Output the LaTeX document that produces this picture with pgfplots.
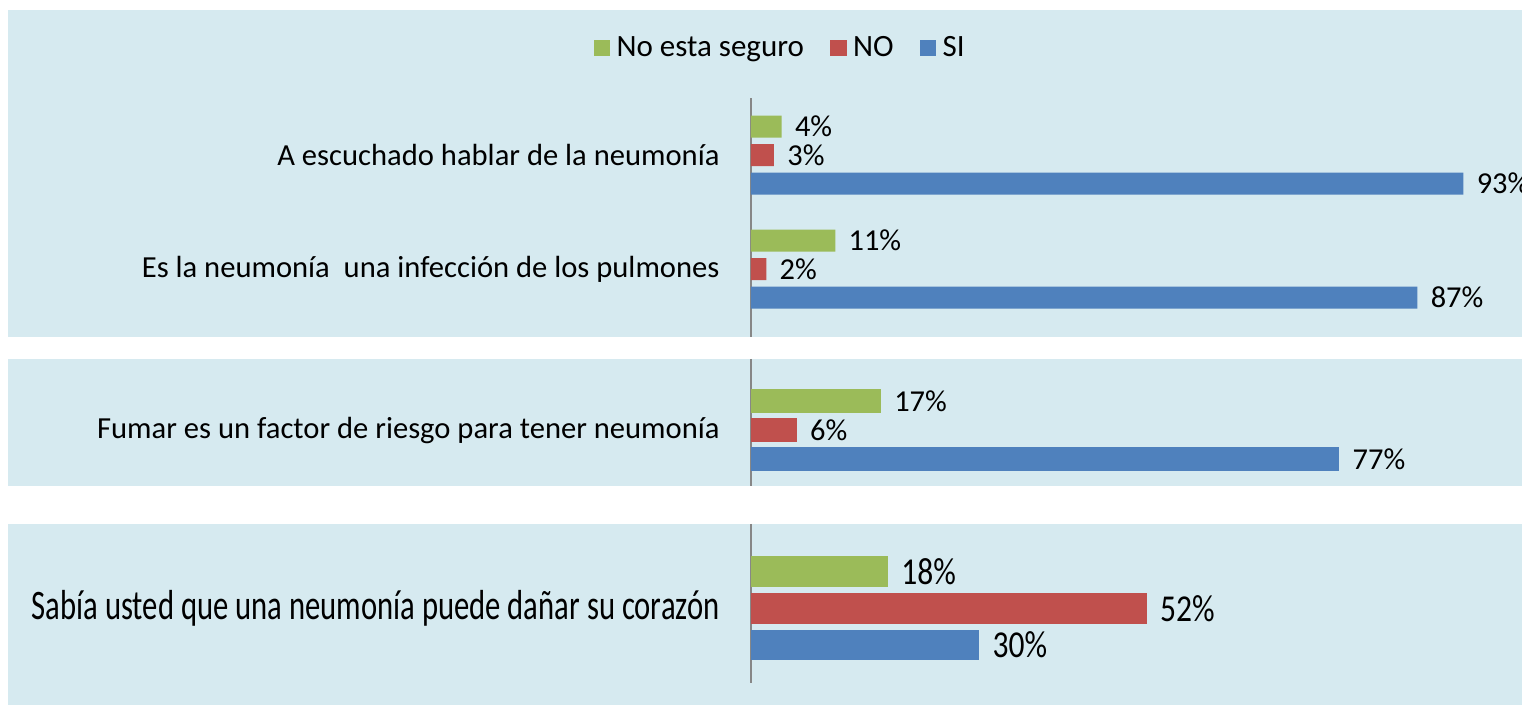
\documentclass[border=0pt]{standalone}
\usepackage{pgfplots}
\pgfplotsset{compat=1.18}
\usepackage{fontspec}
\setmainfont{Carlito}
\newfontfamily\condfont[FakeStretch=0.73]{Carlito}
\newfontfamily\condfontb[FakeStretch=0.83]{Carlito}
\definecolor{cgreen}{RGB}{155,187,89}
\definecolor{cred}{RGB}{192,80,77}
\definecolor{cblue}{RGB}{79,129,189}
\definecolor{panelbg}{RGB}{214,234,240}
\definecolor{axgray}{RGB}{135,135,135}

\pgfplotsset{
  panel/.style={
    anchor=south west,
    y dir=reverse,
    xmin=0,
    axis x line=none,
    axis y line=left,
    y axis line style={axgray, line width=0.6pt, -},
    major tick length=0pt,
    ytick style={draw=none},
    yticklabel style={anchor=east, inner sep=0pt, xshift=-15.5pt, align=right},
    point meta=x,
    nodes near coords={\pgfmathprintnumber[assume math mode=true]{\pgfplotspointmeta}\%},
    every node near coord/.append style={anchor=west, inner sep=0pt, xshift=6.5pt, text=black},
    clip=false,
  }
}

\begin{document}
\begin{tikzpicture}
\useasboundingbox (0pt,0pt) rectangle (761pt,352.5pt);
\fill[white] (0pt,0pt) rectangle (761pt,352.5pt);
\fill[panelbg] (4pt,184pt) rectangle (761pt,347.5pt);
\fill[panelbg] (4pt,109.5pt) rectangle (761pt,173pt);
\fill[panelbg] (4pt,0pt) rectangle (761pt,90.5pt);

% Panel 1
\begin{axis}[panel,
  at={(375.5pt,184pt)},
  x=3.83pt, y=57pt,
  xmax=100.65,
  ymin=-0.5, ymax=1.596,
  xbar=3.25pt, bar width=11pt,
  ytick={0,1},
  yticklabels={A escuchado hablar de la neumonía, Es la neumonía\ \ una infección de los pulmones},
  yticklabel style={font={\fontsize{15.3}{18}\selectfont}},
  every node near coord/.append style={font={\fontsize{15.2}{18}\selectfont}},
  legend columns=3,
  reverse legend,
  legend style={at={(0.039,1.209)}, anchor=center, draw=none, fill=none,
    font={\fontsize{15.5}{18}\selectfont},
    /tikz/every odd column/.append style={column sep=1.2pt},
    /tikz/every even column/.append style={column sep=11pt}},
  legend image code/.code={\fill[#1,draw=none] (0pt,-4pt) rectangle (8.3pt,4.3pt);},
]
\addplot[fill=cblue, draw=none] coordinates {(93,0) (87,1)};
\addplot[fill=cred, draw=none] coordinates {(3,0) (2,1)};
\addplot[fill=cgreen, draw=none] coordinates {(4,0) (11,1)};
\legend{SI, NO, No esta seguro}
\end{axis}

% Panel 2
\begin{axis}[panel,
  at={(375.5pt,109.5pt)},
  x=3.82pt, y=57pt,
  xmax=100.9,
  ymin=-0.623, ymax=0.491,
  xbar=2.5pt, bar width=12pt,
  ytick={0},
  yticklabels={Fumar es un factor de riesgo para tener neumonía},
  yticklabel style={font={\fontsize{15.3}{18}\selectfont}},
  every node near coord/.append style={font={\fontsize{15.2}{18}\selectfont}},
]
\addplot[fill=cblue, draw=none] coordinates {(77,0)};
\addplot[fill=cred, draw=none] coordinates {(6,0)};
\addplot[fill=cgreen, draw=none] coordinates {(17,0)};
\end{axis}

% Panel 3
\begin{axis}[panel,
  at={(375.5pt,11pt)},
  x=3.805pt, y=57pt,
  xmax=101.3,
  ymin=-0.741, ymax=0.654,
  xbar=3.1pt, bar width=15.25pt,
  ytick={0},
  yticklabels={Sabía usted que una neumonía puede dañar su corazón},
  yticklabel style={font={\condfont\fontsize{21}{24}\selectfont}},
  every node near coord/.append style={font={\condfontb\fontsize{19}{22}\selectfont}},
]
\addplot[fill=cblue, draw=none] coordinates {(30,0)};
\addplot[fill=cred, draw=none] coordinates {(52,0)};
\addplot[fill=cgreen, draw=none] coordinates {(18,0)};
\end{axis}
\end{tikzpicture}
\end{document}
